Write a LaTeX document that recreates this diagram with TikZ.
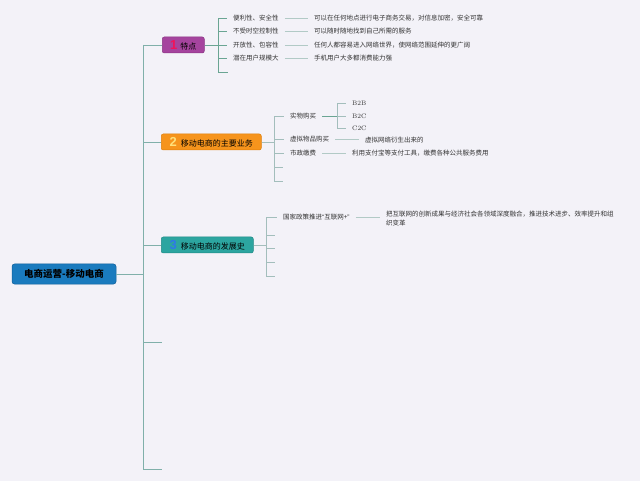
\documentclass[tikz,border=0pt]{standalone}
\usepackage{fontspec}
\newfontfamily\cjk{Noto Sans CJK SC}
\newfontfamily\numfont{Liberation Sans}
\definecolor{bg}{HTML}{F3F2F8}
\definecolor{trunkc}{HTML}{80B0AA}
\definecolor{brA}{HTML}{6AA593}
\definecolor{brB}{HTML}{A3BEBC}
\definecolor{dashc}{HTML}{B2CAC6}
\definecolor{txt}{HTML}{333333}
\definecolor{purp}{HTML}{A5449E}
\definecolor{purpD}{HTML}{8A3584}
\definecolor{orng}{HTML}{F6941C}
\definecolor{orngD}{HTML}{DE7F0C}
\definecolor{teal}{HTML}{2CA5A0}
\definecolor{tealD}{HTML}{218A86}
\definecolor{rootc}{HTML}{1A7BBE}
\definecolor{rootD}{HTML}{11609A}
\definecolor{nOne}{HTML}{F2125A}
\definecolor{nTwo}{HTML}{FFE07A}
\definecolor{nThree}{HTML}{2F78E8}
\begin{document}
\begin{tikzpicture}[x=1pt,y=-1pt,
  small/.style={font=\cjk\fontsize{6.5}{9}\selectfont, text=txt, inner xsep=6pt, inner ysep=1pt, anchor=west},
  lat/.style={font=\fontsize{6.5}{8}\selectfont, text=txt, inner xsep=6pt, inner ysep=1pt, anchor=west},
  bbox/.style={rounded corners=2pt, line width=0.5pt, minimum height=16pt, inner xsep=0pt, inner ysep=0pt, anchor=west, font=\cjk\fontsize{8}{9}\selectfont, text=black},
  rootbox/.style={rounded corners=2.5pt, fill=rootc, draw=rootD, line width=0.5pt, minimum width=104pt, minimum height=20pt, font=\cjk\bfseries\fontsize{9.5}{10}\selectfont, text=black},
  trunk/.style={draw=trunkc, line width=0.9pt},
  linkA/.style={draw=brA, line width=0.8pt},
  linkB/.style={draw=brB, line width=0.8pt},
  dashl/.style={draw=dashc, line width=0.8pt}
]
\fill[bg] (0,0) rectangle (640,481);
\useasboundingbox (0,0) rectangle (640,481);

% root and trunk
\node[rootbox] (root) at (64,274) {电商运营-移动电商};
\coordinate (tTop) at (143,45);
\coordinate (tBot) at (143,469);
\draw[trunk] (tTop) -- (tBot);
\draw[trunk] (root.east) -- (root.east -| tTop);

% main branches
\node[bbox, fill=purp, draw=purpD, minimum width=42pt] (k1) at (162,45)
  {\textcolor{nOne}{\numfont\bfseries\fontsize{13}{13}\selectfont 1}\hspace{3pt}特点};
\node[bbox, fill=orng, draw=orngD, minimum width=100pt] (k2) at (161,142)
  {\textcolor{nTwo}{\numfont\bfseries\fontsize{13}{13}\selectfont 2}\hspace{4pt}移动电商的主要业务};
\node[bbox, fill=teal, draw=tealD, minimum width=92pt] (k3) at (161,245)
  {\textcolor{nThree}{\numfont\bfseries\fontsize{13}{13}\selectfont 3}\hspace{4pt}移动电商的发展史};
\coordinate (k4) at (162,342);
\coordinate (k5) at (162,469);
\draw[trunk] (tTop) -- (k1.west);
\draw[trunk] (k2.west -| tTop) -- (k2.west);
\draw[trunk] (k3.west -| tTop) -- (k3.west);
\draw[trunk] (k4 -| tTop) -- (k4);
\draw[trunk] (k5 -| tTop) -- (k5);

% branch 1
\coordinate (b1) at (218,45);
\draw[linkA] (k1.east) -- (b1);
\node[small] (c11) at (227,18) {便利性、安全性};
\node[small] (c12) at (227,31) {不受时空控制性};
\node[small] (c13) at (227,45) {开放性、包容性};
\node[small] (c14) at (227,58) {潜在用户规模大};
\coordinate (c15) at (228,72);
\draw[linkA] (b1) |- (c11.west);
\draw[linkA] (b1) |- (c12.west);
\draw[linkA] (b1) -- (c13.west);
\draw[linkA] (b1) |- (c14.west);
\draw[linkA] (b1) |- (c15);
\node[small] (d11) at (308,18) {可以在任何地点进行电子商务交易，对信息加密，安全可靠};
\node[small] (d12) at (308,31) {可以随时随地找到自己所需的服务};
\node[small] (d13) at (308,45) {任何人都容易进入网络世界，使网络范围延伸的更广阔};
\node[small] (d14) at (308,58) {手机用户大多都消费能力强};
\draw[dashl] (c11.east) -- (d11.west);
\draw[dashl] (c12.east) -- (d12.west);
\draw[dashl] (c13.east) -- (d13.west);
\draw[dashl] (c14.east) -- (d14.west);

% branch 2
\coordinate (b2) at (274,142);
\draw[linkB] (k2.east) -- (b2);
\node[small] (c21) at (284,116) {实物购买};
\node[small] (c22) at (284,139.5) {虚拟物品购买};
\node[small] (c23) at (284,153.5) {市政缴费};
\coordinate (c24) at (283,167);
\coordinate (c25) at (283,181);
\draw[linkB] (b2) |- (c21.west);
\draw[linkB] (b2) |- (c22.west);
\draw[linkB] (b2) |- (c23.west);
\draw[linkB] (b2) |- (c24);
\draw[linkB] (b2) |- (c25);
\coordinate (s2) at (337,116);
\draw[linkA] (c21.east) -- (s2);
\node[lat] (g1) at (346,103) {B2B};
\node[lat] (g2) at (346,116) {B2C};
\node[lat] (g3) at (346,128) {C2C};
\draw[linkB] (s2) |- (g1.west);
\draw[linkB] (s2) -- (g2.west);
\draw[linkB] (s2) |- (g3.west);
\node[small] (d22) at (359,139.5) {虚拟网络衍生出来的};
\node[small] (d23) at (346,153.5) {利用支付宝等支付工具，缴费各种公共服务费用};
\draw[dashl] (c22.east) -- (d22.west);
\draw[dashl] (c23.east) -- (d23.west);

% branch 3
\coordinate (b3) at (266,245);
\draw[linkB] (k3.east) -- (b3);
\node[small] (c31) at (277,217) {国家政策推进{\numfont “}互联网+{\numfont ”}};
\coordinate (c32) at (275,235);
\coordinate (c33) at (275,248);
\coordinate (c34) at (275,262);
\coordinate (c35) at (275,276);
\draw[linkB] (b3) |- (c31.west);
\draw[linkB] (b3) |- (c32);
\draw[linkB] (b3) |- (c33);
\draw[linkB] (b3) |- (c34);
\draw[linkB] (b3) |- (c35);
\node[small, anchor=north west, align=left] (d31) at (380,209.5)
  {把互联网的创新成果与经济社会各领域深度融合，推进技术进步、效率提升和组\\织变革};
\draw[dashl] (c31.east) -- (c31.east -| d31.west);
\end{tikzpicture}
\end{document}
